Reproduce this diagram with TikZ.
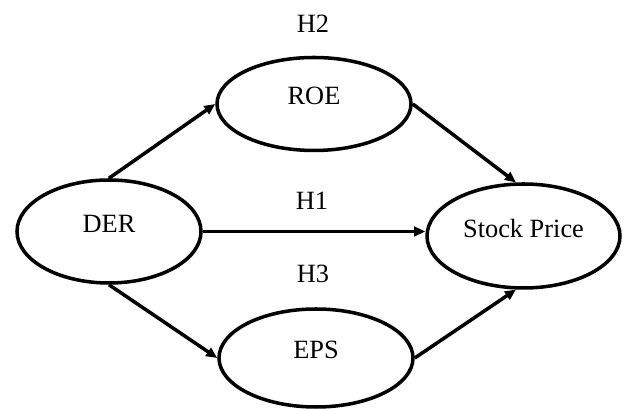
\documentclass[tikz,border=0pt]{standalone}
\usepackage{fontspec}
\setmainfont{Liberation Serif}
\usetikzlibrary{shapes,arrows.meta,positioning,calc}

\begin{document}
\begin{tikzpicture}[
    var/.style={ellipse, draw, line width=2pt, font=\fontsize{15}{18}\selectfont, text depth=9pt},
    hyp/.style={font=\fontsize{15}{18}\selectfont},
    link/.style={-{Triangle[length=2.2mm, width=1.9mm]}, line width=2pt},
]
\useasboundingbox (0,0) rectangle (12.5,8.18);

% Variables
\node[var, minimum width=3.68cm, minimum height=2.06cm] (der) at (2.18, 3.55) {DER};
\node[var, minimum width=3.88cm, minimum height=1.86cm] (roe) at (6.28, 6.10) {ROE};
\node[var, minimum width=3.86cm, minimum height=2.08cm] (price) at (10.47, 3.46) {Stock Price};
\node[var, minimum width=3.88cm, minimum height=1.96cm] (eps) at (6.32, 1.02) {EPS};

% Hypotheses
\node[hyp] (h2) at (6.26, 7.70) {H2};
\node[hyp] (h1) at (6.24, 4.16) {H1};
\node[hyp] (h3) at (6.26, 2.71) {H3};

% Paths
\draw[link] (der.north) -- (roe.west);
\draw[link] (der.east) -- (der.east -| price.west);
\draw[link] (roe.east) -- (price.98);
\draw[link] (der.south) -- (eps.west);
\draw[link] (eps.east) -- (price.262);

\end{tikzpicture}
\end{document}
